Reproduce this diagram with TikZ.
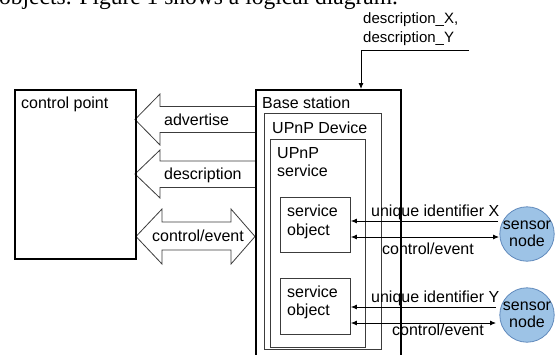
\documentclass[tikz,border=0pt]{standalone}
\usepackage{fontspec}
\setmainfont{Liberation Sans}
\newfontfamily\serifface{Liberation Serif}
\usetikzlibrary{arrows.meta,calc}

\definecolor{sensorfill}{RGB}{157,195,230}
\definecolor{sensorline}{RGB}{96,138,188}
\definecolor{boxline}{RGB}{60,60,60}

\begin{document}
\begin{tikzpicture}[x=1pt,y=-1pt,
  txt/.style={inner sep=0pt, anchor=base west, font=\fontsize{16}{18.4}\selectfont},
  smalltxt/.style={inner sep=0pt, anchor=base west, font=\fontsize{15}{19}\selectfont},
  heavybox/.style={draw=black, line width=1.6pt, fill=none, inner sep=0pt, anchor=north west},
  thinbox/.style={draw=boxline, line width=0.9pt, fill=none, inner sep=0pt, anchor=north west},
  blockarrow/.style={draw=boxline, line width=0.8pt, fill=white, line join=miter},
  conn/.style={draw=black, line width=0.8pt},
  tip/.style={-{Latex[length=6pt,width=5pt]}},
  twotip/.style={{Latex[length=6pt,width=5pt]}-{Latex[length=6pt,width=5pt]}},
  sensor/.style={circle, draw=sensorline, line width=0.8pt, fill=sensorfill,
    minimum size=54pt, inner sep=0pt, align=center, font=\fontsize{16}{17}\selectfont}]
\useasboundingbox (0,0) rectangle (556,354);
\clip (0,0) rectangle (556,354);

% running text of the page above the figure
\node[inner sep=0pt, anchor=base west, font=\serifface\fontsize{23.5}{26}\selectfont]
  (pagetext) at (-1,4.5) {objects. Figure 1 shows a logical diagram.};

% block arrows between control point and base station
\draw[blockarrow] (255,106.5) -- (160,106.5) -- (160,94) -- (135,119.5)
  -- (160,145) -- (160,132.5) -- (255,132.5);
\draw[blockarrow] (255,161) -- (160,161) -- (160,150) -- (135,174)
  -- (160,198) -- (160,187.5) -- (255,187.5);
\draw[blockarrow] (136,236.5) -- (162,209) -- (162,222) -- (231,222) -- (231,209)
  -- (255,236.5) -- (231,264) -- (231,250) -- (162,250) -- (162,264) -- cycle;
\node[txt] (advlbl) at (164,125) {advertise};
\node[txt] (desclbl) at (164,179) {description};
\node[txt] (celbl) at (152,241.5) {control/event};

% boxes
\node[heavybox, minimum width=121pt, minimum height=169pt] (cp) at (14,89) {};
\node[txt] (cptxt) at (21,108) {control point};

\node[thinbox, minimum width=117pt, minimum height=236pt] (dev) at (264,113) {};
\node[thinbox, minimum width=95pt, minimum height=208pt] (svc) at (270,139) {};
\node[thinbox, minimum width=70pt, minimum height=55pt] (sobj1) at (280,197) {};
\node[thinbox, minimum width=70pt, minimum height=56pt] (sobj2) at (280,278) {};
\node[heavybox, minimum width=145pt, minimum height=290pt] (bs) at (255,89) {};

% box titles (multi-line ones are placed by their last baseline)
\node[txt] (bstxt) at (262,108) {Base station};
\node[txt] (devtxt) at (272,133) {UPnP Device};
\node[txt, align=left] (svctxt) at (277,176.5) {UPnP\\service};
\node[txt, align=left] (so1txt) at (287,235) {service\\object};
\node[txt, align=left] (so2txt) at (287,315.5) {service\\object};

% sensor nodes
\node[sensor] (c1) at (527,234) {sensor\\node};
\node[sensor] (c2) at (527,315) {sensor\\node};

% links between service objects and sensor nodes
\coordinate (u1) at (498,221);
\coordinate (e1) at (499,237);
\coordinate (u2) at (496,307);
\coordinate (e2) at (496,323);
\draw[conn, tip] (u1) -- (sobj1.east |- u1);
\draw[conn, twotip] (sobj1.east |- e1) -- (e1);
\draw[conn, tip] (u2) -- (sobj2.east |- u2);
\draw[conn, twotip] (sobj2.east |- e2) -- (e2);
\node[txt] (uid1) at (371,216) {unique identifier X};
\node[txt] (ce1) at (382,254) {control/event};
\node[txt] (uid2) at (371,302) {unique identifier Y};
\node[txt] (ce2) at (392,335) {control/event};

% descriptions fed into the base station
\node[smalltxt, align=left] (desctop) at (363,42) {description\_X,\\description\_Y};
\coordinate (dtop) at (469,50);
\draw[conn, line width=0.9pt, tip] (dtop) -| ($(bs.north west)+(106,0)$);
\end{tikzpicture}
\end{document}
